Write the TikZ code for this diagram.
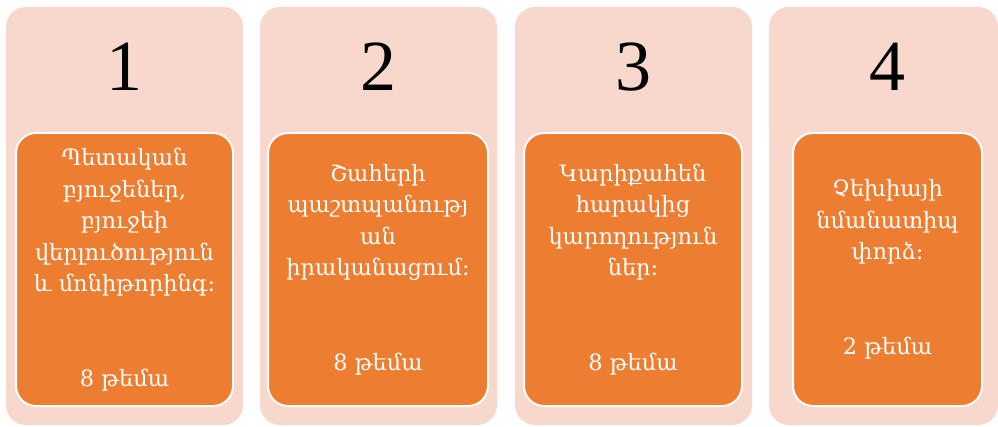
\documentclass[tikz,border=0pt]{standalone}
\usepackage{fontspec}
\usepackage{tikz}
\newfontfamily\armfont{DejaVu Serif}
\newfontfamily\numfont{Liberation Serif}
\definecolor{paleorange}{HTML}{F8D7CC}
\definecolor{darkorange}{HTML}{ED7D31}
\tikzset{
    outerbox/.style={fill=paleorange, rounded corners=20pt, inner sep=0pt},
    innerbox/.style={fill=darkorange, draw=white, line width=2pt, rounded corners=20pt,
        text=white, align=center, inner sep=0pt,
        font=\armfont\fontsize{22.5}{31.5}\selectfont},
    bignum/.style={font=\numfont\fontsize{72}{72}\selectfont, text=black}
}
\begin{document}
\begin{tikzpicture}[x=1pt, y=-1pt]
        \useasboundingbox (0,0) rectangle (998,427);
        % background panels
        \fill[outerbox] (6,7) rectangle (243,425);
        \fill[outerbox] (260,7) rectangle (497,425);
        \fill[outerbox] (515,7) rectangle (752,425);
        \fill[outerbox] (769,7) rectangle (998,425);
        \node[bignum] (num1) at (124.5,67) {1};
        \node[bignum] (num2) at (378.5,67) {2};
        \node[bignum] (num3) at (633.5,67) {3};
        \node[bignum] (num4) at (887.5,67) {4};
        % topic cards
        \node[innerbox, minimum width=217pt, minimum height=273pt] (card1) at (124.5,269.5)
            {Պետական\\բյուջեներ,\\բյուջեի\\վերլուծություն\\և մոնիթորինգ:\\\\\\8 թեմա};
        \node[innerbox, minimum width=220pt, minimum height=273pt] (card2) at (378,269.5)
            {Շահերի\\պաշտպանությ\\ան\\իրականացում:\\\\\\8 թեմա};
        \node[innerbox, minimum width=218pt, minimum height=273pt] (card3) at (633,269.5)
            {Կարիքահեն\\հարակից\\կարողություն\\ներ:\\\\\\8 թեմա};
        \node[innerbox, minimum width=189pt, minimum height=273pt] (card4) at (887.5,269.5)
            {Չեխիայի\\նմանատիպ\\փորձ:\\\\\\2 թեմա};
    \end{tikzpicture}
\end{document}
